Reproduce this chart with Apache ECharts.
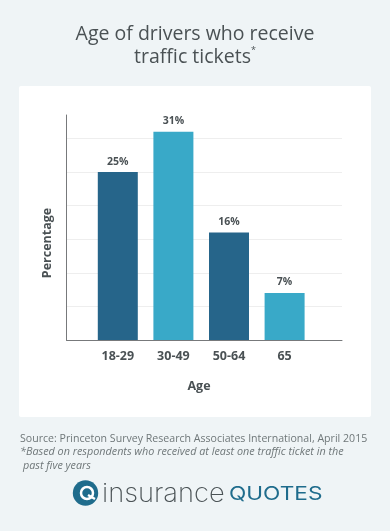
<!DOCTYPE html>
<html>
<head>
<meta charset="utf-8">
<style>
  html, body { margin: 0; padding: 0; background: #eff4f6; }
  #chart { width: 390px; height: 531px; }
</style>
<script src="https://cdn.jsdelivr.net/npm/echarts@6/dist/echarts.min.js"></script>
</head>
<body>
<div id="chart"></div>
<script>
var categories = ['18-29', '30-49', '50-64', '65']
var values = [25, 31, 16, 7]
var barColors = ['#26658a', '#39a9c8', '#26658a', '#39a9c8']
var titleLines = 'Age of drivers who receive\n{plain|traffic tickets}{sup|*}'
var sourceText = 'Source: Princeton Survey Research Associates International, April 2015'
var noteLines = ['*Based on respondents who received at least one traffic ticket in the', 'past five years']

var font = 'Open Sans'
var textColor = '#4a5154'
var noteColor = '#6f7779'
var yMax = 33.5

var chart = echarts.init(document.getElementById('chart'))

chart.setOption({
  backgroundColor: '#eff4f6',
  animation: false,
  textStyle: { fontFamily: font },
  title: [
    {
      text: titleLines,
      left: 190,
      top: 18,
      textAlign: 'center',
      textStyle: {
        fontFamily: font,
        fontSize: 19.5,
        fontWeight: 'normal',
        color: textColor,
        lineHeight: 23,
        rich: {
          plain: { fontFamily: font, fontSize: 19.5, color: textColor, lineHeight: 23 },
          sup: { fontFamily: font, fontSize: 9, color: textColor, verticalAlign: 'top', lineHeight: 23 }
        }
      }
    }
  ],
  grid: [
    // frame: axis line and the grid lines
    { left: 66.5, top: 115, width: 275.5, height: 225 },
    // bars sit in their own narrower band
    { left: 90, top: 115, width: 222.4, height: 225 }
  ],
  xAxis: [
    {
      gridIndex: 0,
      type: 'value',
      min: 0,
      max: 1,
      axisLine: { show: true, lineStyle: { color: '#77797b', width: 1 } },
      axisTick: { show: false },
      axisLabel: { show: false },
      splitLine: { show: false }
    },
    {
      gridIndex: 1,
      type: 'category',
      data: categories,
      axisLine: { show: false },
      axisTick: { show: false },
      axisLabel: { margin: 10, fontFamily: font, fontSize: 12.5, fontWeight: 700, color: textColor }
    }
  ],
  yAxis: [
    {
      gridIndex: 0,
      type: 'value',
      min: 0,
      max: yMax,
      interval: 5,
      axisLine: { show: true, lineStyle: { color: '#77797b', width: 1 } },
      axisTick: { show: false },
      axisLabel: { show: false },
      splitLine: { show: true, showMaxLine: false, lineStyle: { color: '#eeeeee', width: 1 } }
    },
    {
      gridIndex: 1,
      type: 'value',
      min: 0,
      max: yMax,
      show: false,
      splitLine: { show: false }
    }
  ],
  series: [
    {
      type: 'bar',
      xAxisIndex: 1,
      yAxisIndex: 1,
      barWidth: 40,
      data: values,
      itemStyle: {
        color: function (p) { return barColors[p.dataIndex] }
      },
      label: {
        show: true,
        position: 'top',
        distance: 5,
        formatter: '{c}%',
        fontFamily: font,
        fontSize: 10.5,
        fontWeight: 700,
        color: textColor
      }
    }
  ],
  graphic: [
    {
      type: 'rect',
      z: -1,
      shape: { x: 19, y: 86, width: 352, height: 331, r: 2 },
      style: { fill: '#ffffff' }
    },
    {
      type: 'text',
      style: { x: 47, y: 243, text: 'Percentage', fontFamily: font, fontSize: 12.5, fontWeight: 700, fill: textColor, align: 'center', verticalAlign: 'middle' },
      rotation: Math.PI / 2,
      originX: 47,
      originY: 243
    },
    {
      type: 'text',
      style: { x: 199, y: 386, text: 'Age', fontFamily: font, fontSize: 12.5, fontWeight: 700, fill: textColor, align: 'center', verticalAlign: 'middle' }
    },
    {
      type: 'text',
      style: { x: 20, y: 439, text: sourceText, fontFamily: font, fontSize: 10.6, fill: noteColor, align: 'left', verticalAlign: 'middle' }
    },
    {
      type: 'text',
      style: { x: 20, y: 452, text: noteLines[0], fontFamily: font, fontSize: 10.8, fontStyle: 'italic', fill: noteColor, align: 'left', verticalAlign: 'middle' }
    },
    {
      type: 'text',
      style: { x: 23, y: 466, text: noteLines[1], fontFamily: font, fontSize: 10.8, fontStyle: 'italic', fill: noteColor, align: 'left', verticalAlign: 'middle' }
    },
    // logo
    {
      type: 'circle',
      shape: { cx: 85.5, cy: 493, r: 12.7 },
      style: { fill: '#1f6c8c' }
    },
    {
      type: 'circle',
      shape: { cx: 87, cy: 493, r: 6 },
      style: { fill: 'none', stroke: '#ffffff', lineWidth: 2.5 }
    },
    {
      type: 'line',
      shape: { x1: 88, y1: 495, x2: 95, y2: 499 },
      style: { stroke: '#ffffff', lineWidth: 2.5 }
    },
    {
      type: 'text',
      style: { x: 102, y: 494, text: 'insurance', fontFamily: 'Inter', fontSize: 26, fontWeight: 200, fill: '#4b5356', align: 'left', verticalAlign: 'middle' },
      scaleX: 1.05,
      originX: 102,
      originY: 494
    },
    {
      type: 'text',
      style: { x: 229, y: 494, text: 'QUOTES', fontFamily: 'Inter', fontSize: 19, fontWeight: 400, fill: '#1f6c8c', align: 'left', verticalAlign: 'middle' },
      scaleX: 1.19,
      originX: 229,
      originY: 494
    }
  ]
})
</script>
</body>
</html>
